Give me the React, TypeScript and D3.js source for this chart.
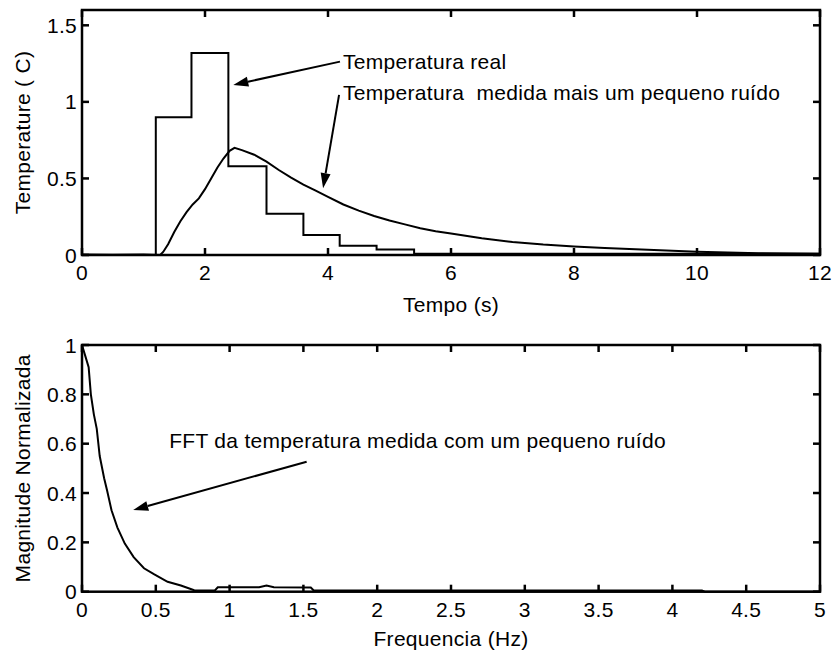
import React from "react";
import * as d3 from "d3";

// ---- Top plot data ----
const realTimes = [0, 1.2, 1.78, 2.38, 3.0, 3.6, 4.19, 4.79, 5.4, 12];
const realValues = [0, 0.9, 1.32, 0.58, 0.27, 0.13, 0.06, 0.036, 0.008, 0.008];

const measTimes = [0, 0.5, 1.0, 1.27, 1.32, 1.4, 1.5, 1.6, 1.7, 1.8, 1.9, 2.0, 2.1, 2.2, 2.3, 2.4, 2.48, 2.6, 2.8, 3.0, 3.2, 3.4, 3.6, 3.8, 4.0, 4.25, 4.5, 4.75, 5.0, 5.25, 5.5, 5.75, 6.0, 6.5, 7.0, 7.5, 8.0, 8.5, 9.0, 9.5, 10.0, 10.5, 11.0, 11.5, 12.0];
const measValues = [0.003, 0.002, 0.003, 0.0, 0.02, 0.07, 0.15, 0.22, 0.28, 0.33, 0.37, 0.43, 0.5, 0.57, 0.63, 0.68, 0.7, 0.685, 0.655, 0.61, 0.555, 0.505, 0.46, 0.42, 0.38, 0.33, 0.29, 0.255, 0.225, 0.2, 0.175, 0.155, 0.14, 0.11, 0.085, 0.068, 0.056, 0.046, 0.038, 0.03, 0.022, 0.016, 0.012, 0.01, 0.008];

const topXTicks = [0, 2, 4, 6, 8, 10, 12];
const topYTicks = [0, 0.5, 1, 1.5];

// ---- Bottom plot data ----
const freq = [0, 0.02, 0.045, 0.06, 0.08, 0.1, 0.12, 0.15, 0.17, 0.2, 0.24, 0.29, 0.35, 0.42, 0.49, 0.58, 0.67, 0.76, 0.9, 0.92, 1.2, 1.25, 1.3, 1.55, 1.57, 4.2, 4.22, 5.0];
const magnitude = [1.0, 0.96, 0.91, 0.8, 0.72, 0.66, 0.55, 0.46, 0.41, 0.33, 0.26, 0.195, 0.14, 0.095, 0.07, 0.04, 0.025, 0.006, 0.005, 0.018, 0.018, 0.025, 0.018, 0.017, 0.005, 0.005, 0.0, 0.0];

const botXTicks = [0, 0.5, 1, 1.5, 2, 2.5, 3, 3.5, 4, 4.5, 5];
const botYTicks = [0, 0.2, 0.4, 0.6, 0.8, 1];

const FONT = "'Liberation Sans', Arial, sans-serif";
const FS = 21;
const LS = 0.3;

function Arrow({ x1, y1, x2, y2 }: { x1: number; y1: number; x2: number; y2: number }) {
  const ang = Math.atan2(y2 - y1, x2 - x1);
  const L = 15, W = 5;
  const bx = x2 - L * Math.cos(ang), by = y2 - L * Math.sin(ang);
  const px = -Math.sin(ang) * W, py = Math.cos(ang) * W;
  return (
    <g>
      <line x1={x1} y1={y1} x2={bx} y2={by} stroke="#000" strokeWidth={2} />
      <polygon points={`${x2},${y2} ${bx + px},${by + py} ${bx - px},${by - py}`} fill="#000" />
    </g>
  );
}

function Frame({ x, y, xticks, yticks, fmtX, fmtY, left, right, top, bottom }: any) {
  const T = 7;
  return (
    <g>
      <rect x={left} y={top} width={right - left} height={bottom - top} fill="none" stroke="#000" strokeWidth={2.5} />
      {xticks.map((t: number, i: number) => (
        <g key={"x" + i}>
          <line x1={x(t)} x2={x(t)} y1={bottom} y2={bottom - T} stroke="#000" strokeWidth={2.5} />
          <line x1={x(t)} x2={x(t)} y1={top} y2={top + T} stroke="#000" strokeWidth={2.5} />
          <text x={x(t)} y={bottom + 25} textAnchor="middle" fontFamily={FONT} fontSize={FS} letterSpacing={LS}>{fmtX(t)}</text>
        </g>
      ))}
      {yticks.map((t: number, i: number) => (
        <g key={"y" + i}>
          <line x1={left} x2={left + T} y1={y(t)} y2={y(t)} stroke="#000" strokeWidth={2.5} />
          <line x1={right} x2={right - T} y1={y(t)} y2={y(t)} stroke="#000" strokeWidth={2.5} />
          <text x={left - 5} y={y(t)} dy="0.36em" textAnchor="end" fontFamily={FONT} fontSize={FS} letterSpacing={LS}>{fmtY(t)}</text>
        </g>
      ))}
    </g>
  );
}

export default function App() {
  const left = 82, right = 820;
  const t1 = 10, b1 = 255;
  const t2 = 345, b2 = 591.7;

  const x1 = d3.scaleLinear().domain([0, 12]).range([left, right]);
  const y1 = d3.scaleLinear().domain([0, 1.6]).range([b1, t1]);
  const x2 = d3.scaleLinear().domain([0, 5]).range([left, right]);
  const y2 = d3.scaleLinear().domain([0, 1]).range([b2, t2]);

  const stepLine = d3.line<number>().x((_, i) => x1(realTimes[i])).y((d) => y1(d)).curve(d3.curveStepAfter);
  const measLine = d3.line<number>().x((_, i) => x1(measTimes[i])).y((d) => y1(d));
  const fftLine = d3.line<number>().x((_, i) => x2(freq[i])).y((d) => y2(d));

  const fmt = (v: number) => String(v);

  return (
    <svg width={833} height={657} style={{ position: "absolute", left: 0, top: 0, background: "#fff" }}>
      <rect width={833} height={657} fill="#fff" />
      {/* Top plot */}
      <path d={stepLine(realValues) || ""} fill="none" stroke="#000" strokeWidth={2} />
      <path d={measLine(measValues) || ""} fill="none" stroke="#000" strokeWidth={2} />
      <Frame x={x1} y={y1} xticks={topXTicks} yticks={topYTicks} fmtX={fmt} fmtY={fmt} left={left} right={right} top={t1} bottom={b1} />
      <text x={(left + right) / 2} y={312} textAnchor="middle" fontFamily={FONT} fontSize={FS} letterSpacing={LS}>Tempo (s)</text>
      <text transform={`translate(30,${(t1 + b1) / 2}) rotate(-90)`} textAnchor="middle" fontFamily={FONT} fontSize={FS} letterSpacing={LS}>Temperature ( C)</text>
      <text x={x1(4.244)} y={y1(1.214)} fontFamily={FONT} fontSize={FS} letterSpacing={LS}>Temperatura real</text>
      <text x={x1(4.244)} y={y1(1.013)} fontFamily={FONT} fontSize={FS} letterSpacing={LS} style={{ whiteSpace: "pre" }}>{"Temperatura  medida mais um pequeno ruído"}</text>
      <Arrow x1={x1(4.195)} y1={y1(1.263)} x2={x1(2.46)} y2={y1(1.111)} />
      <Arrow x1={x1(4.18)} y1={y1(1.046)} x2={x1(3.92)} y2={y1(0.436)} />

      {/* Bottom plot */}
      <path d={fftLine(magnitude) || ""} fill="none" stroke="#000" strokeWidth={2} />
      <Frame x={x2} y={y2} xticks={botXTicks} yticks={botYTicks} fmtX={fmt} fmtY={fmt} left={left} right={right} top={t2} bottom={b2} />
      <text x={(left + right) / 2} y={646} textAnchor="middle" fontFamily={FONT} fontSize={FS} letterSpacing={LS}>Frequencia (Hz)</text>
      <text transform={`translate(30,${(t2 + b2) / 2}) rotate(-90)`} textAnchor="middle" fontFamily={FONT} fontSize={FS} letterSpacing={LS}>Magnitude Normalizada</text>
      <text x={x2(0.591)} y={y2(0.581)} fontFamily={FONT} fontSize={FS} letterSpacing={LS}>FFT da temperatura medida com um pequeno ruído</text>
      <Arrow x1={x2(1.522)} y1={y2(0.527)} x2={x2(0.347)} y2={y2(0.331)} />
    </svg>
  );
}
